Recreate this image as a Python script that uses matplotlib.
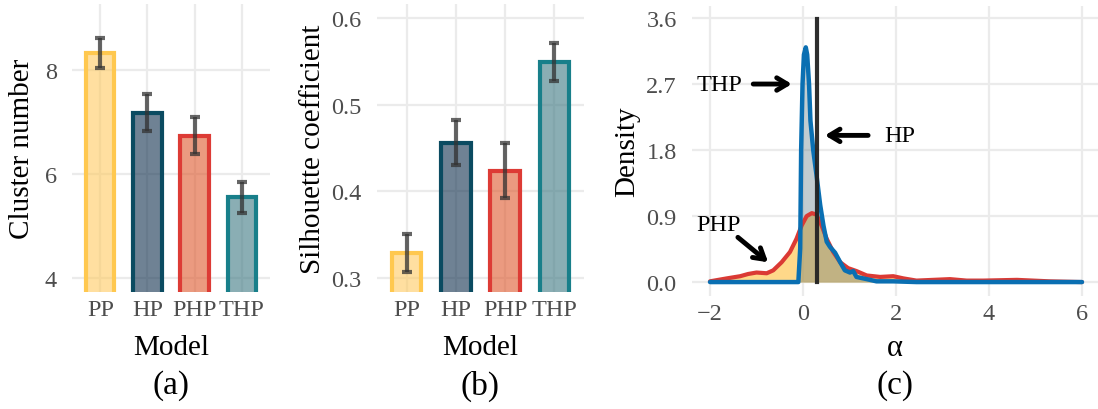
import numpy as np
import matplotlib
matplotlib.use('Agg')
import matplotlib.pyplot as plt

plt.rcParams['font.family'] = ['Liberation Serif', 'DejaVu Serif']

# ---- data ----
models = ['PP', 'HP', 'PHP', 'THP']
edge_colors = ['#FFC84F', '#0B4B61', '#DD3B35', '#187F8A']
fill_colors = ['#FFCA61', '#0F2F4D', '#DF572B', '#3C7882']

cluster_mean = [8.33, 7.18, 6.74, 5.55]
cluster_err = [0.29, 0.35, 0.35, 0.30]

silhouette_mean = [0.329, 0.456, 0.424, 0.549]
silhouette_err = [0.022, 0.026, 0.032, 0.022]

# density of alpha, PHP model
php_x = [-2.0, -1.64, -1.35, -1.18, -1.0, -0.78, -0.64, -0.46, -0.28, -0.14, -0.03, 0.08,
         0.19, 0.29, 0.40, 0.51, 0.65, 0.80, 0.97, 1.15, 1.37, 1.66, 1.94, 2.16, 2.44,
         2.80, 3.16, 3.52, 3.88, 4.6, 4.95, 5.3, 6.0]
php_y = [0.01, 0.05, 0.08, 0.11, 0.13, 0.12, 0.16, 0.27, 0.41, 0.59, 0.77, 0.90,
         0.94, 0.92, 0.77, 0.59, 0.41, 0.27, 0.19, 0.15, 0.09, 0.07, 0.08, 0.05, 0.02,
         0.03, 0.04, 0.02, 0.02, 0.03, 0.02, 0.01, 0.0]

# density of alpha, THP model
thp_x = [-2.0, -0.10, -0.06, -0.04, -0.01, 0.02, 0.06, 0.09, 0.13, 0.16, 0.22, 0.29,
         0.37, 0.44, 0.51, 0.58, 0.69, 0.80, 0.90, 1.01, 1.08, 1.15, 1.37, 1.58, 1.94,
         2.44, 6.0]
thp_y = [0.0, 0.0, 0.46, 1.8, 2.7, 3.1, 3.2, 3.1, 2.7, 2.2, 1.8, 1.46,
         1.05, 0.77, 0.55, 0.48, 0.40, 0.27, 0.16, 0.13, 0.15, 0.07, 0.04, 0.01, 0.01,
         0.0, 0.0]

# HP estimate is a single value
hp_alpha = 0.30
hp_top = 3.58

W, H = 1098, 410
fig = plt.figure(figsize=(W / 100, H / 100), dpi=100)

def px_axes(left, right, top, bottom):
    return fig.add_axes([left / W, 1 - bottom / H, (right - left) / W, (bottom - top) / H])

grid_col = '#EBEBEB'
tick_col = '#4D4D4D'
TICK = 17.5
TITLE = 21

def style(ax):
    for s in ax.spines.values():
        s.set_visible(False)
    ax.grid(True, color=grid_col, linewidth=1.6, zorder=0)
    ax.set_axisbelow(True)
    ax.tick_params(length=0, labelsize=TICK, labelcolor=tick_col)

def place_labels(ax, ylab_x, xlab_y):
    ax.yaxis.set_label_coords(ylab_x, 0.5)
    ax.yaxis.label.set_va('center')
    ax.xaxis.set_label_coords(0.5, xlab_y)
    ax.xaxis.label.set_va('center')

def bar_panel(ax, means, errs, ylim, yticks, ylabel, fmt):
    style(ax)
    x = np.arange(len(models))
    ax.bar(x, means, width=0.6, bottom=0, color=fill_colors, alpha=0.6,
           linewidth=0, zorder=2)
    ax.bar(x, means, width=0.6, bottom=0, fill=False,
           edgecolor=edge_colors, linewidth=3, zorder=2.5)
    ax.errorbar(x, means, yerr=errs, fmt='none', ecolor='#333333', alpha=0.75,
                elinewidth=3, capsize=3.5, capthick=3, zorder=3)
    ax.set_xlim(-0.6, 3.6)
    ax.set_ylim(*ylim)
    ax.set_xticks(x)
    ax.set_xticklabels(models)
    ax.set_yticks(yticks)
    ax.set_yticklabels([fmt.format(v) for v in yticks])
    ax.tick_params(axis='x', pad=5)
    ax.tick_params(axis='y', pad=11)
    ax.set_ylabel(ylabel, fontsize=TITLE)
    ax.set_xlabel('Model', fontsize=TITLE)

ax1 = px_axes(72, 270, 5, 293)
bar_panel(ax1, cluster_mean, cluster_err, (3.73, 9.27), [4, 6, 8], 'Cluster number', '{:g}')
place_labels(ax1, -0.25, -0.19)

ax2 = px_axes(377, 584, 5, 293)
bar_panel(ax2, silhouette_mean, silhouette_err, (0.284, 0.616), [0.3, 0.4, 0.5, 0.6],
          'Silhouette coefficient', '{:.1f}')
place_labels(ax2, -0.31, -0.19)

# ---- density panel ----
ax3 = px_axes(692, 1098, 7, 297)
style(ax3)
ax3.fill_between(php_x, 0, php_y, color='#FFC857', alpha=0.7, linewidth=0, zorder=1)
ax3.fill_between(thp_x, 0, thp_y, color='#4F6D7A', alpha=0.35, linewidth=0, zorder=1.1)
ax3.plot(php_x, php_y, color='#DB3A34', linewidth=3, solid_capstyle='round', zorder=3)
ax3.plot(thp_x, thp_y, color='#0A6FB2', linewidth=3.2, solid_capstyle='round',
         solid_joinstyle='round', zorder=4)
ax3.plot([hp_alpha, hp_alpha], [0, hp_top], color='#222222', linewidth=3, alpha=0.95, zorder=5)

arrow = dict(arrowstyle='->,head_length=0.75,head_width=0.45', color='black', lw=3.5,
             shrinkA=0, shrinkB=0)
ax3.annotate('', xy=(-0.24, 2.7), xytext=(-1.07, 2.7), arrowprops=arrow, zorder=6)
ax3.annotate('', xy=(0.47, 2.0), xytext=(1.40, 2.0), arrowprops=arrow, zorder=6)
ax3.annotate('', xy=(-0.75, 0.27), xytext=(-1.40, 0.61), arrowprops=arrow, zorder=6)
ax3.text(-1.79, 2.7, 'THP', fontsize=TICK, ha='center', va='center')
ax3.text(2.09, 2.0, 'HP', fontsize=TICK, ha='center', va='center')
ax3.text(-1.81, 0.79, 'PHP', fontsize=TICK, ha='center', va='center')

ax3.set_xlim(-2.387, 6.344)
ax3.set_ylim(-0.19, 3.764)
ax3.set_xticks([-2, 0, 2, 4, 6])
ax3.set_xticklabels(['\u22122', '0', '2', '4', '6'])
ax3.set_yticks([0, 0.9, 1.8, 2.7, 3.6])
ax3.set_yticklabels(['0.0', '0.9', '1.8', '2.7', '3.6'])
ax3.tick_params(axis='x', pad=5)
ax3.tick_params(axis='y', pad=11)
ax3.set_ylabel('Density', fontsize=TITLE)
ax3.set_xlabel('\u03b1', fontsize=22)
place_labels(ax3, -0.16, -0.176)

# panel captions
for ax, lab in [(ax1, '(a)'), (ax2, '(b)'), (ax3, '(c)')]:
    b = ax.get_position()
    fig.text(b.x0 + b.width / 2, 1 - 386 / H, lab, fontsize=24, ha='center', va='center')

fig.savefig('out.png', dpi=100)
